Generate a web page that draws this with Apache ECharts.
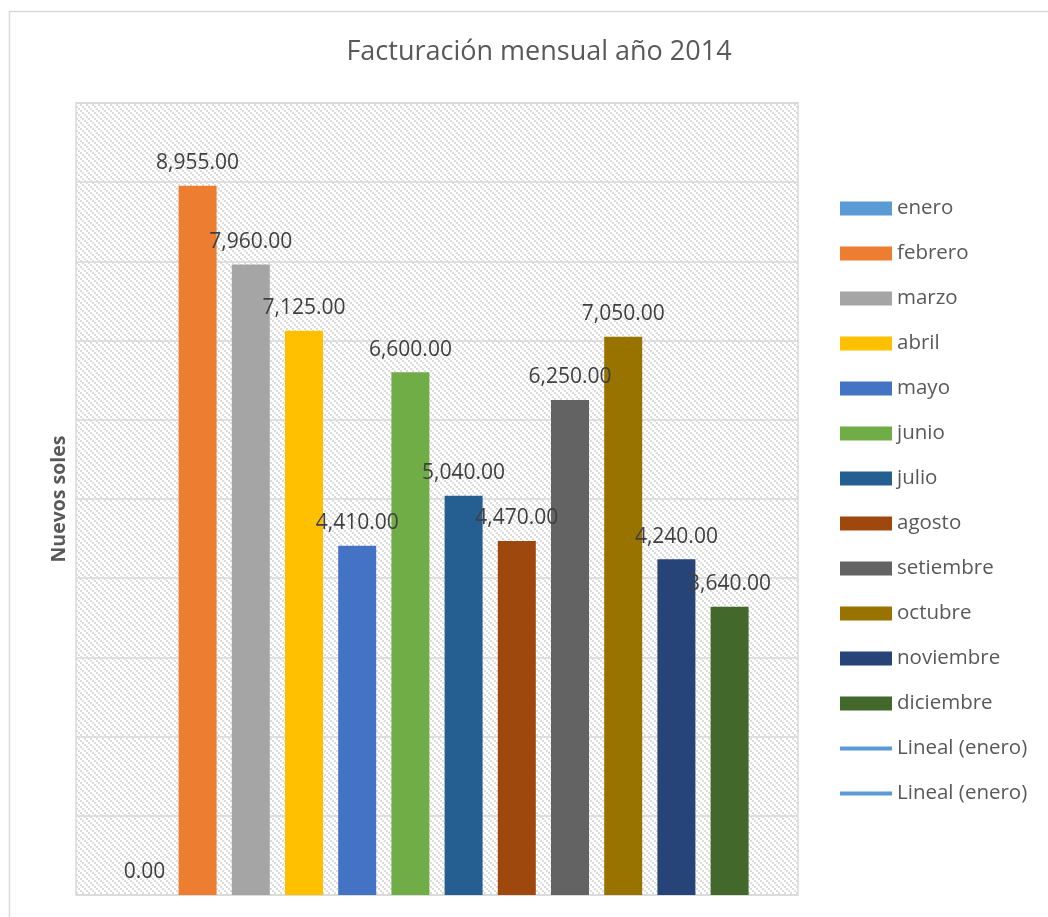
<!DOCTYPE html>
<html>
<head>
<meta charset="utf-8">
<style>
  html, body { margin: 0; padding: 0; background: #ffffff; }
  #chart { width: 1048px; height: 917px; }
</style>
<script src="https://cdn.jsdelivr.net/npm/echarts@6/dist/echarts.min.js"></script>
</head>
<body>
<div id="chart"></div>
<script>
// Monthly billing, 2014 (Nuevos soles)
const months = ['enero', 'febrero', 'marzo', 'abril', 'mayo', 'junio', 'julio',
  'agosto', 'setiembre', 'octubre', 'noviembre', 'diciembre'];
const amounts = [0, 8955, 7960, 7125, 4410, 6600, 5040, 4470, 6250, 7050, 4240, 3640];
const monthColors = ['#5b9bd5', '#ed7d31', '#a5a5a5', '#ffc000', '#4472c4', '#70ad47',
  '#255e91', '#9e480e', '#636363', '#997300', '#264478', '#43682b'];
const trendNames = ['Lineal (enero)', 'Lineal (enero) '];
const yMin = 0, yMax = 10000, yStep = 1000;

const FONT = 'Open Sans';

// diagonal hatch tile for the plot background
function hatchTile() {
  const c = document.createElement('canvas');
  c.width = 6; c.height = 6;
  const g = c.getContext('2d');
  g.fillStyle = '#ffffff';
  g.fillRect(0, 0, 6, 6);
  g.fillStyle = '#dcdcdc';
  for (let i = 0; i < 3; i++) {
    for (let j = 0; j < 3; j++) {
      if ((i - j + 3) % 3 === 0) g.fillRect(i * 2, j * 2, 2, 2);
    }
  }
  return c;
}

const fmt = v => Number(v).toLocaleString('en-US', { minimumFractionDigits: 2, maximumFractionDigits: 2 });

const barSeries = months.map((m, i) => ({
  name: m,
  type: 'bar',
  data: [amounts[i]],
  barWidth: 38,
  barGap: '40%',
  itemStyle: { color: monthColors[i] },
  label: {
    show: true,
    position: 'top',
    distance: 12,
    formatter: p => fmt(p.value),
    color: '#404040',
    fontFamily: FONT,
    fontSize: 21
  }
}));

const trendSeries = trendNames.map(n => ({
  name: n,
  type: 'line',
  data: [amounts[0]],
  symbol: 'none',
  color: '#5b9bd5',
  lineStyle: { color: '#5b9bd5', width: 3 }
}));

// legend entries: plain rectangles for bars, a thin stroke for the trend lines
const legendData = months.map(m => ({ name: m, icon: 'rect' }))
  .concat(trendNames.map(n => ({ name: n, icon: 'path://M0,0 L52,0 L52,4 L0,4 Z' })));

const chart = echarts.init(document.getElementById('chart'), null, { renderer: 'canvas' });
chart.setOption({
  animation: false,
  backgroundColor: '#ffffff',
  textStyle: { fontFamily: FONT },
  title: {
    text: 'Facturación mensual año 2014',
    left: 534,
    textAlign: 'center',
    top: 34,
    textStyle: { fontFamily: FONT, fontSize: 27, fontWeight: 'normal', color: '#595959' }
  },
  graphic: [{
    type: 'rect',
    z: -10,
    shape: { x: 9.5, y: 11.5, width: 1200, height: 1200 },
    style: { fill: null, stroke: '#d9d9d9', lineWidth: 1.5 }
  }],
  legend: {
    orient: 'vertical',
    left: 835,
    top: 193,
    itemWidth: 52,
    itemHeight: 14,
    itemGap: 24,
    itemTextGap: 6,
    data: legendData,
    textStyle: { fontFamily: FONT, fontSize: 20.5, color: '#595959', lineHeight: 14 }
  },
  grid: {
    left: 76,
    right: 250,
    top: 103,
    bottom: 22,
    show: true,
    borderColor: '#d9d9d9',
    borderWidth: 1.5,
    backgroundColor: { image: hatchTile(), repeat: 'repeat' }
  },
  xAxis: {
    type: 'category',
    data: [''],
    axisLine: { show: false },
    axisTick: { show: false },
    axisLabel: { show: false }
  },
  yAxis: {
    type: 'value',
    min: yMin,
    max: yMax,
    interval: yStep,
    axisLine: { show: false },
    axisTick: { show: false },
    axisLabel: { show: false },
    splitLine: { lineStyle: { color: '#d9d9d9', width: 1.5 } },
    name: 'Nuevos soles',
    nameLocation: 'middle',
    nameGap: 7,
    nameTextStyle: { fontFamily: FONT, fontSize: 19.5, fontWeight: 'bold', color: '#595959' }
  },
  series: barSeries.concat(trendSeries)
});
</script>
</body>
</html>
